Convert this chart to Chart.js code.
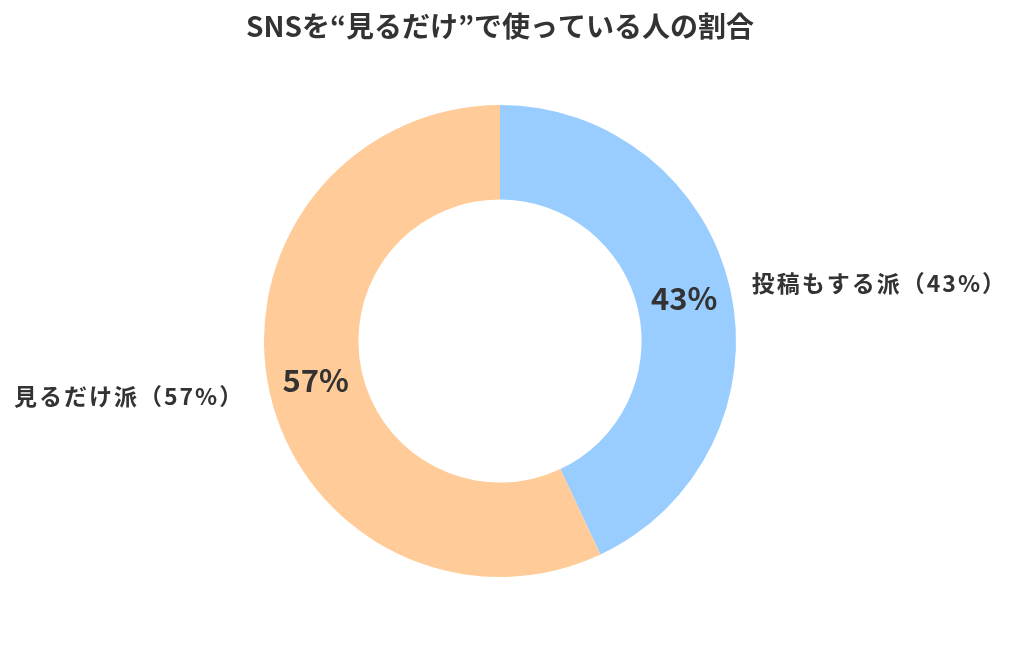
<!DOCTYPE html>
<html><head><meta charset="utf-8">
<script src="https://cdn.jsdelivr.net/npm/chart.js@4"></script>
<style>html,body{margin:0;padding:0;background:#fff}#wrap{width:1024px;height:648px}</style>
</head><body><div id="wrap"><canvas id="c" width="1024" height="648"></canvas></div>
<script>
const titleText = 'SNSを“見るだけ”で使っている人の割合';
const categories = ['投稿もする派', '見るだけ派'];
const values = [43, 57];
const colors = ['#99CCFF', '#FFCC99'];
const FONT = "'Noto Sans CJK JP', 'Noto Sans', sans-serif";
const TEXT = '#333333';

const labelPlugin = {
  id: 'labels',
  afterDatasetsDraw(chart) {
    const ctx = chart.ctx;
    const meta = chart.getDatasetMeta(0);
    const total = values.reduce((a, b) => a + b, 0);
    meta.data.forEach((arc, i) => {
      const p = arc.getProps(['x','y','startAngle','endAngle','innerRadius','outerRadius'], true);
      const mid = (p.startAngle + p.endAngle) / 2;
      const pct = Math.round(values[i] / total * 100) + '%';
      const rm = (p.innerRadius + p.outerRadius) / 2;
      ctx.save();
      ctx.fillStyle = TEXT;
      ctx.font = `bold 31px ${FONT}`;
      ctx.textAlign = 'center';
      ctx.textBaseline = 'middle';
      ctx.fillText(pct, p.x + Math.cos(mid) * rm, p.y + Math.sin(mid) * rm - 2);
      const ro = p.outerRadius + 22;
      const lx = p.x + Math.cos(mid) * ro;
      const ly = p.y + Math.sin(mid) * ro;
      ctx.font = `bold 23px ${FONT}`;
      ctx.letterSpacing = '2px';
      const right = Math.cos(mid) >= 0;
      ctx.textAlign = right ? 'left' : 'right';
      ctx.fillText(`${categories[i]}（${pct}）`, right ? lx : lx - 4, ly - 1);
      ctx.restore();
    });
  }
};

new Chart(document.getElementById('c'), {
  type: 'doughnut',
  data: {
    labels: categories,
    datasets: [{ data: values, backgroundColor: colors, borderWidth: 0, hoverOffset: 0 }]
  },
  options: {
    responsive: false,
    animation: false,
    cutout: '60%',
    layout: { padding: { top: 0, bottom: 71, left: 0, right: 24 } },
    plugins: {
      legend: { display: false },
      tooltip: { enabled: false },
      title: {
        display: true, text: titleText, color: TEXT,
        font: { family: FONT, size: 28, weight: 'bold' },
        padding: { top: 10, bottom: 61.4 }
      }
    }
  },
  plugins: [labelPlugin]
});
</script></body></html>
